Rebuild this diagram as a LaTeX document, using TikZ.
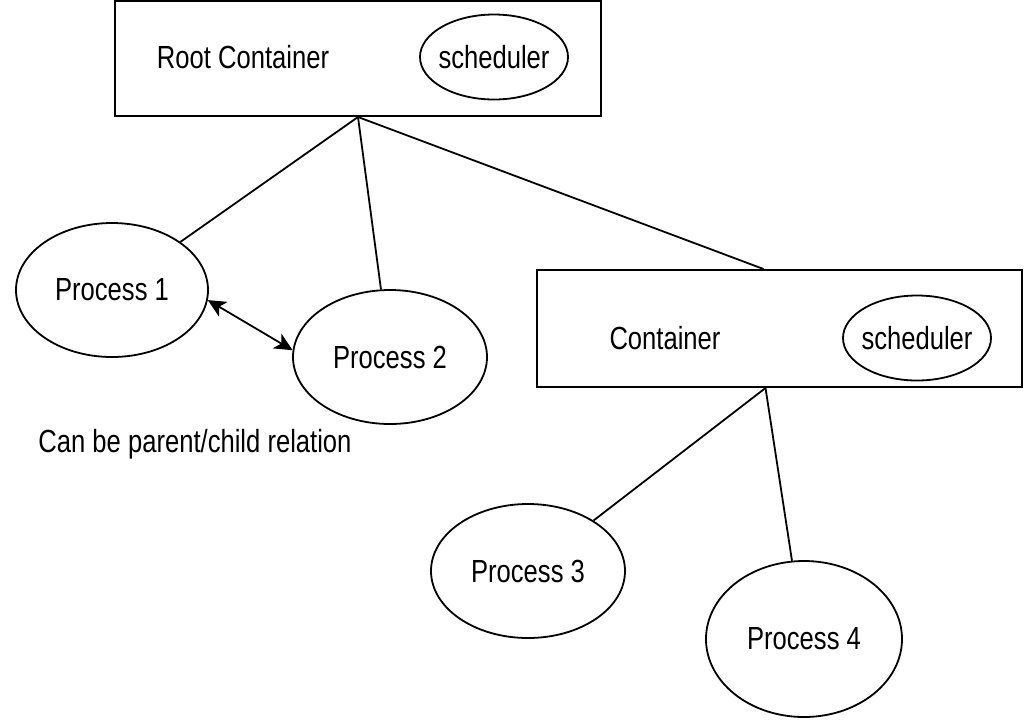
\documentclass[tikz,border=0pt]{standalone}
\usepackage{fontspec}
\setmainfont{Liberation Sans}[FakeStretch=0.8]
\usetikzlibrary{shapes.geometric,arrows.meta}

\tikzset{
  box/.style={draw, line width=1pt, inner sep=0pt},
  proc/.style={draw, ellipse, line width=0.9pt, inner sep=0pt,
    minimum width=97pt, minimum height=67pt},
  sched/.style={draw, ellipse, line width=0.9pt, inner xsep=-8pt, inner ysep=0pt,
    minimum width=74pt, minimum height=42.5pt},
  link/.style={line width=0.9pt},
  relarrow/.style={link, {Stealth[length=9pt,width=8.5pt,inset=2.5pt]}-{Stealth[length=9pt,width=8.5pt,inset=2.5pt]}},
}

\begin{document}
\begin{tikzpicture}[x=0.5pt, y=-0.5pt, font=\fontsize{16}{19}\selectfont]
\useasboundingbox (0,0) rectangle (1024,720);

% root container
\node[box, minimum width=243pt, minimum height=57.5pt] (root) at (358,58.5) {};
\node (rootlabel) at (243,57) {Root Container};
\node[sched] (rootsched) at (494,57) {scheduler};

% child container
\node[box, minimum width=242.5pt, minimum height=58.5pt] (cont) at (779.5,328.5) {};
\node (contlabel) at (665,338) {Container};
\node[sched] (contsched) at (917,338) {scheduler};

% processes
\node[proc, minimum width=96pt] (p1) at (112,290) {Process 1};
\node[proc] (p2) at (390,357) {Process 2};
\node[proc] (p3) at (528,571) {Process 3};
\node[proc, minimum width=98pt, minimum height=78pt] (p4) at (804,639) {Process 4};

\node (note) at (195,444) {Can be parent/child relation};

% tree links
\draw[link] (root.south) -- (p1);
\draw[link] (root.south) -- (p2);
\draw[link] (root.south) -- ([xshift=-8pt]cont.north);
\draw[link] ([xshift=-7pt]cont.south) -- (p3);
\draw[link] ([xshift=-7pt]cont.south) -- (p4);

\draw[relarrow] (p1.354) -- (p2.176);
\end{tikzpicture}
\end{document}
